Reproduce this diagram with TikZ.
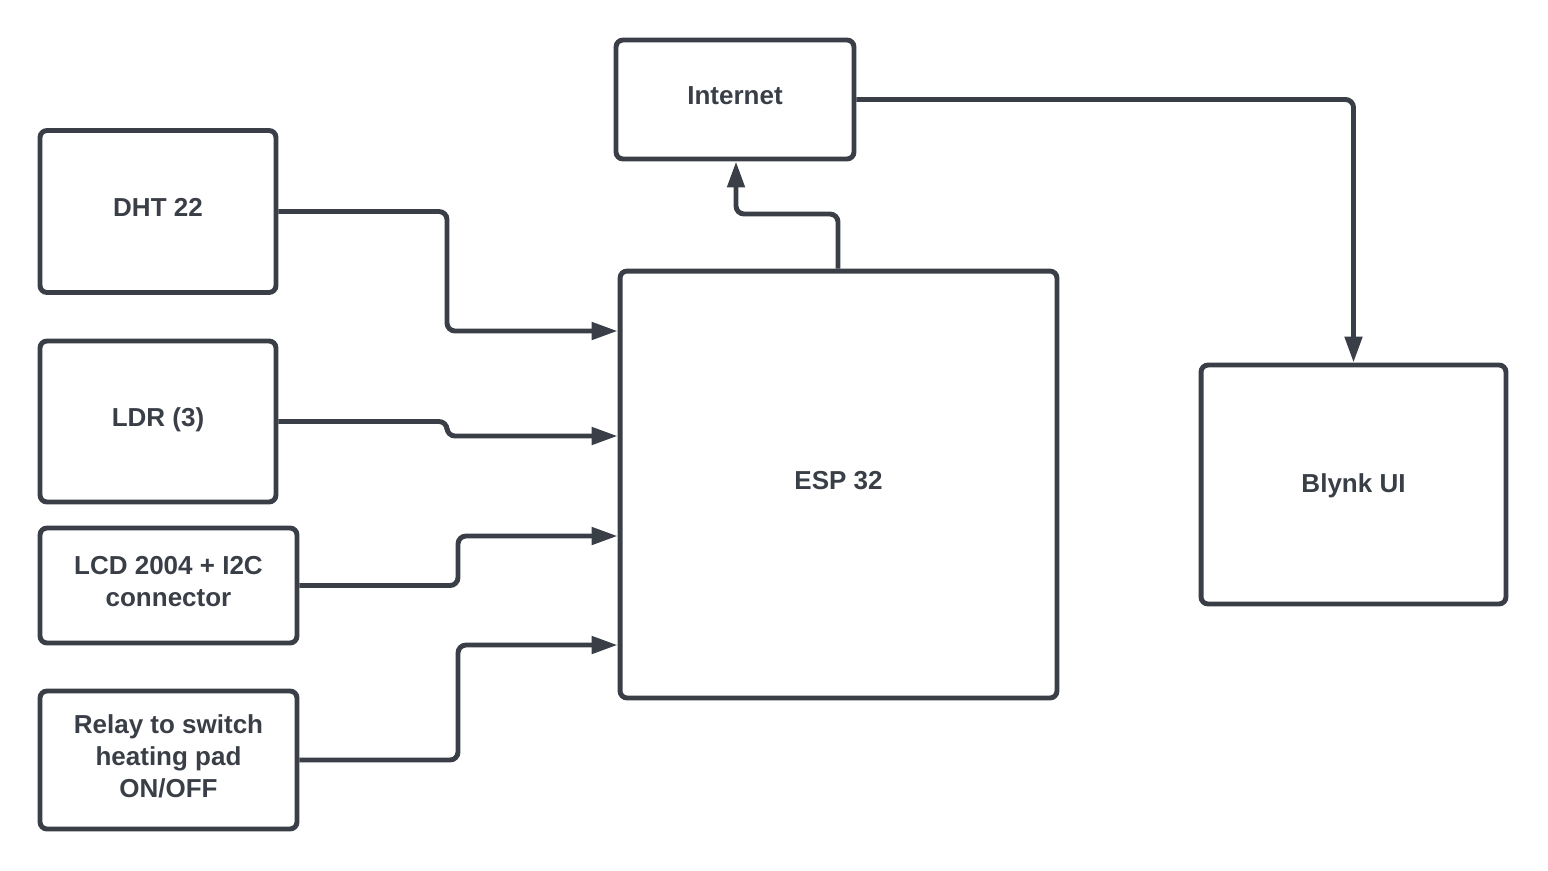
\documentclass[tikz,border=0pt]{standalone}
\usepackage{fontspec}
\setmainfont{Liberation Sans}
\usetikzlibrary{arrows.meta}
\definecolor{ink}{HTML}{3A3F47}
\begin{document}
\begin{tikzpicture}[x=0.02cm, y=-0.02cm,
	box/.style = {draw=ink, line width=2.8pt, rounded corners=0.14cm, inner sep=0pt, text depth=0.16cm, align=center, text=ink, font=\bfseries\fontsize{14.8}{18.2}\selectfont},
	link/.style = {draw=ink, line width=2.8pt, rounded corners=0.16cm, -{Triangle[length=0.52cm, width=0.34cm]}}]
	\useasboundingbox (0,0) rectangle (1548,870);
	% blocks
	\node[box, minimum width=4.72cm, minimum height=3.24cm] (dht) at (158,211.5) {DHT 22};
	\node[box, minimum width=4.72cm, minimum height=3.22cm] (ldr) at (158,421.5) {LDR (3)};
	\node[box, minimum width=5.14cm, minimum height=2.30cm] (lcd) at (168.5,585.5) {LCD 2004 + I2C\\connector};
	\node[box, minimum width=5.14cm, minimum height=2.76cm] (relay) at (168.5,760) {Relay to switch\\heating pad\\ON/OFF};
	\node[box, minimum width=4.76cm, minimum height=2.38cm] (inet) at (735,99.5) {Internet};
	\node[box, minimum width=8.74cm, minimum height=8.54cm] (esp) at (838.5,484.5) {ESP 32};
	\node[box, text depth=0.05cm, minimum width=6.10cm, minimum height=4.78cm] (blynk) at (1353.5,484.5) {Blynk UI};
	% connectors
	\draw[link] (dht.east) -| (447,331) -- (esp.west |- 0,331);
	\draw[link] (ldr.east) -| (447,436) -- (esp.west |- 0,436);
	\draw[link] (lcd.east) -| (458,536) -- (esp.west |- 0,536);
	\draw[link] (relay.east) -| (458,645) -- (esp.west |- 0,645);
	\draw[link] (esp.north -| 838,0) |- (736,214) -- (inet.south -| 736,0);
	\draw[link] (inet.east) -| (blynk.north);
\end{tikzpicture}
\end{document}
